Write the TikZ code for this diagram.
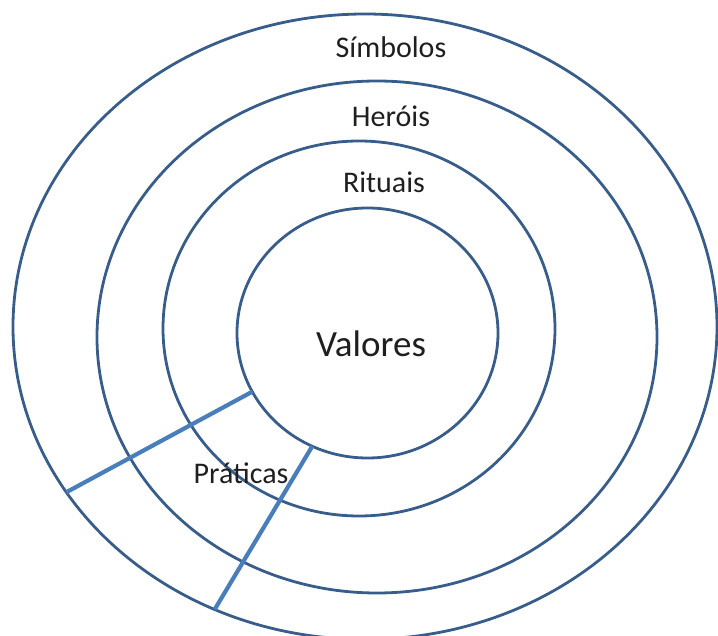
\documentclass[tikz,border=0pt]{standalone}
\usepackage{fontspec}
\setmainfont{Carlito}
\usetikzlibrary{shapes.geometric}
\definecolor{ringblue}{HTML}{385D8A}
\definecolor{cutblue}{HTML}{4A7EBB}
\definecolor{labelgray}{HTML}{1F1F1F}
\begin{document}
\begin{tikzpicture}[x=1pt,y=-1pt,
  ring/.style={ellipse, draw=ringblue, line width=2.8pt, inner sep=0pt, outer sep=0pt},
  cut/.style={draw=cutblue, line width=4.2pt},
  layer/.style={anchor=base, text=labelgray, inner sep=0pt, font=\fontsize{30}{36}\selectfont},
  core/.style={anchor=base, text=labelgray, inner sep=0pt, font=\fontsize{37}{44}\selectfont}]
  \useasboundingbox (0,0) rectangle (718,636);
  % concentric layers of the onion
  \node[ring, minimum width=704pt, minimum height=625.4pt] (simbolos) at (365,326.7) {};
  \node[ring, minimum width=560pt, minimum height=512pt] (herois) at (377,337) {};
  \node[ring, minimum width=392pt, minimum height=375pt] (rituais) at (359,328.5) {};
  \node[ring, minimum width=261pt, minimum height=250pt] (valores) at (367.5,333) {};
  % the practices wedge cut through the outer layers
  \draw[cut] (valores.207) -- (simbolos.209.1);
  \draw[cut] (valores.244) -- (simbolos.242.8);
  % layer names
  \node[layer] (tsimbolos) at (391,58) {Símbolos};
  \node[layer] (therois) at (391,127) {Heróis};
  \node[layer] (trituais) at (384,193) {Rituais};
  \node[core] (tvalores) at (371,357) {Valores};
  \node[layer] (tpraticas) at (241,483) {Práticas};
\end{tikzpicture}
\end{document}
